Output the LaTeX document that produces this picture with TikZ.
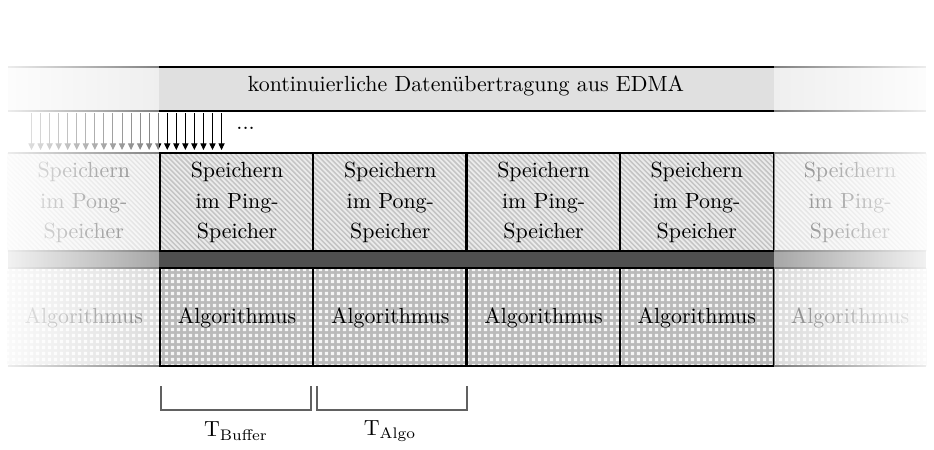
\documentclass[tikz,border=0pt]{standalone}
\usetikzlibrary{patterns,fadings,arrows.meta}

% diagonal stripes for the storage row
\pgfdeclarepatternformonly{pstripes}{\pgfqpoint{-1pt}{-1pt}}{\pgfqpoint{3.3pt}{3.3pt}}{\pgfqpoint{2.3pt}{2.3pt}}{%
  \pgfsetlinewidth{0.8pt}%
  \pgfpathmoveto{\pgfqpoint{0pt}{2.3pt}}%
  \pgfpathlineto{\pgfqpoint{2.4pt}{-0.1pt}}%
  \pgfusepath{stroke}}
% small squares for the algorithm row
\pgfdeclarepatternformonly{psquares}{\pgfqpoint{0pt}{0pt}}{\pgfqpoint{2.5pt}{2.5pt}}{\pgfqpoint{2.5pt}{2.5pt}}{%
  \pgfpathrectangle{\pgfqpoint{0.45pt}{0.45pt}}{\pgfqpoint{1.6pt}{1.6pt}}%
  \pgfusepath{fill}}

\tikzfading[name=fadeleft, left color=transparent!5, right color=transparent!50]
\tikzfading[name=faderight, left color=transparent!50, right color=transparent!5]

\colorlet{barfill}{black!12}
\colorlet{bandfill}{black!69}
\colorlet{stripebg}{black!23}
\colorlet{stripeline}{black!8}
\colorlet{gridbg}{black!27}
\colorlet{gridsq}{black!4}
\colorlet{bracketcol}{black!62}

\tikzset{
  cell/.style={rectangle, inner sep=0pt, minimum width=153.25*0.4566pt,
    minimum height=98*0.4566pt, anchor=north west, align=center,
    font=\fontsize{10}{14}\selectfont},
  stripecell/.style={cell, preaction={fill=stripebg}, pattern=pstripes, pattern color=stripeline},
  gridcell/.style={cell, preaction={fill=gridbg}, pattern=psquares, pattern color=gridsq},
  barline/.style={line width=1.3pt},
  cellline/.style={line width=1.1pt},
  flow/.style={line width=0.45pt, -{Triangle[length=3pt,width=2.8pt]}},
  bracket/.style={draw=bracketcol, line width=0.5pt},
  veil/.style={fill=white},
}

\begin{document}
\begin{tikzpicture}[x=0.4566pt, y=-0.4566pt]
  \useasboundingbox (0,0) rectangle (934,450);

  % EDMA transfer bar
  \fill[barfill] (8,67) rectangle (926,111);
  \node[inner sep=0pt, font=\fontsize{10}{14}\selectfont] (edma) at (466,86)
    {kontinuierliche Datenübertragung aus EDMA};

  % storage row
  \node[stripecell] (s0) at (6.75,153) {Speichern\\im Pong-\\Speicher};
  \node[stripecell] (s1) at (160,153) {Speichern\\im Ping-\\Speicher};
  \node[stripecell] (s2) at (313.25,153) {Speichern\\im Pong-\\Speicher};
  \node[stripecell] (s3) at (466.5,153) {Speichern\\im Ping-\\Speicher};
  \node[stripecell] (s4) at (619.75,153) {Speichern\\im Pong-\\Speicher};
  \node[stripecell] (s5) at (773,153) {Speichern\\im Ping-\\Speicher};

  % algorithm row
  \node[gridcell] (a0) at (6.75,268) {Algorithmus};
  \node[gridcell] (a1) at (160,268) {Algorithmus};
  \node[gridcell] (a2) at (313.25,268) {Algorithmus};
  \node[gridcell] (a3) at (466.5,268) {Algorithmus};
  \node[gridcell] (a4) at (619.75,268) {Algorithmus};
  \node[gridcell] (a5) at (773,268) {Algorithmus};

  % dark band between the rows
  \fill[bandfill] (8,251) rectangle (926,268);

  % horizontal borders
  \draw[barline] (8,67) -- (926,67);
  \draw[barline] (8,111) -- (926,111);
  \foreach \yy in {153,251,268,366}
    \draw[cellline] (8,\yy) -- (926,\yy);

  % vertical borders of the active cells
  \foreach \i in {1,2,3,4}{
    \draw[cellline] (s\i.north west) -- (s\i.south west);
    \draw[cellline] (a\i.north west) -- (a\i.south west);
  }
  \draw[cellline] (s4.north east) -- (s4.south east);
  \draw[cellline] (a4.north east) -- (a4.south east);

  % incoming samples
  \foreach \k in {0,...,21}{
    \coordinate (src\k) at (31.5+9.05*\k,113);
    \coordinate (dst\k) at (31.5+9.05*\k,150);
    \draw[flow] (src\k) -- (dst\k);
  }

  % fade out towards both sides
  \fill[veil, path fading=fadeleft] (0,60) rectangle (158.7,372);
  \fill[veil, path fading=faderight] (774.3,60) rectangle (934,372);

  \node[inner sep=0pt, anchor=base west] (more) at (236,130) {...};

  % timing brackets
  \coordinate (b1l) at (161,386);
  \coordinate (b1r) at (311,386);
  \coordinate (b2l) at (317,386);
  \coordinate (b2r) at (467,386);
  \draw[bracket] (b1l) -- ++(0,24) -| (b1r);
  \draw[bracket] (b2l) -- ++(0,24) -| (b2r);
  \node (tbuf) at (236,431) {$\mathrm{T}_{\mathrm{Buffer}}$};
  \node (talgo) at (390,431) {$\mathrm{T}_{\mathrm{Algo}}$};
\end{tikzpicture}
\end{document}
